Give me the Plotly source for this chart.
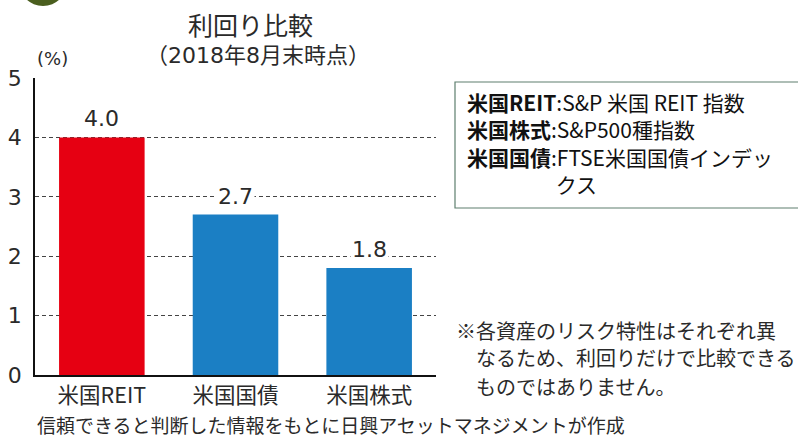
import plotly.graph_objects as go

categories = ["米国REIT", "米国国債", "米国株式"]
values = [4.0, 2.7, 1.8]
bar_colors = ["#E60012", "#1B7FC4", "#1B7FC4"]
y_ticks = [0, 1, 2, 3, 4, 5]

FONT = "Noto Sans CJK JP"
NUM = "DejaVu Sans, Noto Sans CJK JP"
TXT = "#2a2a2a"

fig = go.Figure()
fig.add_trace(go.Bar(x=categories, y=values, marker=dict(color=bar_colors, line=dict(width=0)),
                     width=0.64, hoverinfo="skip"))

for c, v in zip(categories, values):
    fig.add_annotation(x=c, y=v, text=f"{v:.1f}", showarrow=False, yanchor="bottom", yshift=4,
                       bgcolor="white", font=dict(family=NUM, size=22, color=TXT), borderpad=1)

fig.update_layout(
    width=798, height=439,
    margin=dict(l=35, r=362, t=78, b=64),
    paper_bgcolor="white", plot_bgcolor="white",
    showlegend=False,
    font=dict(family=FONT, color=TXT),
    bargap=0.36,
)
fig.update_xaxes(showline=True, linecolor="#111", linewidth=1.5, ticks="", automargin=False,
                 tickfont=dict(size=21.5, family=FONT, color=TXT), showgrid=False)
fig.update_yaxes(range=[0, 5], tickvals=y_ticks, showline=True, linecolor="#111", linewidth=1.5,
                 showgrid=True, gridcolor="#444", griddash="4px,3px", gridwidth=1, zeroline=False,
                 ticks="", ticklabelstandoff=7, automargin=False,
                 tickfont=dict(size=22, family=NUM, color=TXT))


def px_x(x):
    return (x - 35) / 401


def px_y(y):
    return (375 - y) / 297


# header circle (cut-off at top edge)
fig.add_shape(type="circle", xref="paper", yref="paper", x0=px_x(19), x1=px_x(67),
              y0=px_y(6), y1=px_y(-42), fillcolor="#4A5E1E", line=dict(width=0))

fig.add_annotation(xref="paper", yref="paper", x=px_x(250), y=px_y(24), text="利回り比較",
                   showarrow=False, font=dict(size=25, family=FONT, color=TXT), xanchor="center", yanchor="middle")
fig.add_annotation(xref="paper", yref="paper", x=px_x(258), y=px_y(55), text="（2018年8月末時点）",
                   showarrow=False, font=dict(size=22, family=NUM, color=TXT),
                   xanchor="center", yanchor="middle")
fig.add_annotation(xref="paper", yref="paper", x=px_x(52), y=px_y(58), text="(%)",
                   showarrow=False, font=dict(size=18, family=NUM, color=TXT),
                   xanchor="center", yanchor="middle")

# legend box
fig.add_shape(type="rect", xref="paper", yref="paper", x0=px_x(455), x1=px_x(805), y0=px_y(82), y1=px_y(208),
              line=dict(color="#5E7F6E", width=1.2), fillcolor="rgba(0,0,0,0)")
legend_text = ("<b>米国REIT</b>:S&P 米国 REIT 指数<br>"
               "<b>米国株式</b>:S&P500種指数<br>"
               "<b>米国国債</b>:FTSE米国国債インデッ<br>"
               "　　　　&nbsp;クス")
fig.add_annotation(xref="paper", yref="paper", x=px_x(465), y=px_y(143), text=legend_text, showarrow=False,
                   xanchor="left", yanchor="middle", align="left",
                   font=dict(size=21, family=FONT, color="#111"))

note_lines = [("※各資産のリスク特性はそれぞれ異", 330), ("　なるため、利回りだけで比較できる", 357),
              ("　ものではありません。", 386)]
for t, y in note_lines:
    fig.add_annotation(xref="paper", yref="paper", x=px_x(454), y=px_y(y), text=t, showarrow=False,
                       xanchor="left", yanchor="middle", font=dict(size=20, family=FONT, color=TXT))

fig.add_annotation(xref="paper", yref="paper", x=px_x(35), y=px_y(425),
                   text="信頼できると判断した情報をもとに日興アセットマネジメントが作成", showarrow=False,
                   xanchor="left", yanchor="middle", font=dict(size=19, family=FONT, color=TXT))

fig.write_html("out.html")
